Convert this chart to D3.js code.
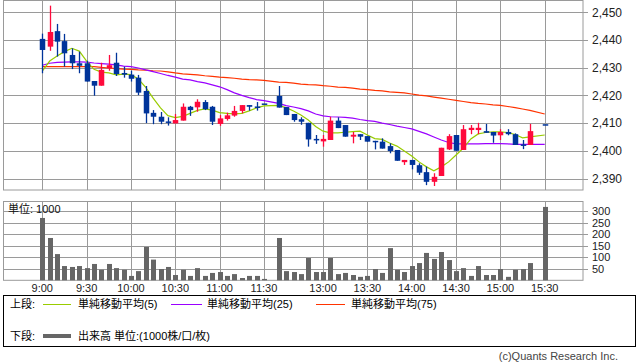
<!DOCTYPE html>
<html><head><meta charset="utf-8">
<script src="https://cdn.jsdelivr.net/npm/d3@7"></script>
<style>
body{margin:0;background:#fff;}
svg{display:block;font-family:"Liberation Sans","Noto Sans CJK JP",sans-serif;}
</style></head>
<body><svg id="c" width="638" height="362"></svg>
<script>
const times = ["9:00","9:05","9:10","9:15","9:20","9:25","9:30","9:35","9:40","9:45","9:50","9:55",
"10:00","10:05","10:10","10:15","10:20","10:25","10:30","10:35","10:40","10:45","10:50","10:55",
"11:00","11:05","11:10","11:15","11:20","11:25","11:30","12:00",
"12:30","12:35","12:40","12:45","12:50","12:55","13:00","13:05","13:10","13:15","13:20","13:25",
"13:30","13:35","13:40","13:45","13:50","13:55","14:00","14:05","14:10","14:15","14:20","14:25",
"14:30","14:35","14:40","14:45","14:50","14:55","15:00","15:05","15:10","15:15","15:20","15:25","15:30"];

const openP  = [2440.4,2437.6,2443.2,2439.6,2434.6,2431.6,2431.6,2425.2,2423.5,2429.8,2431.8,2428.1,2427.5,2426.4,2421.6,2413.7,2412.3,2410.6,2409.9,2410.9,2415.9,2415.7,2417.6,2415.9,2409.7,2411.5,2412.7,2414.4,2416.5,2416.0,2417.1,null,
2419.8,2415.8,2413.3,2411.4,2410.1,2404.3,2403.4,2403.9,2410.9,2409.3,2405.1,2406.0,2405.3,2403.6,2403.3,2401.7,2400.3,2395.9,2396.7,2394.8,2392.3,2388.8,2390.9,2400.5,2405.7,2400.3,2407.5,2407.5,2407.1,2406.8,2405.6,2406.8,2406.0,2402.3,2402.1,null,2409.6];
const highP  = [2442.3,2452.4,2445.8,2442.2,2437.0,2435.8,2432.5,2425.2,2431.8,2434.6,2435.4,2430.4,2428.9,2427.4,2423.4,2414.7,2414.0,2412.1,2413.3,2417.1,2416.2,2418.6,2418.3,2416.2,2412.9,2413.8,2416.2,2416.5,2416.5,2417.6,2417.1,null,
2423.4,2415.8,2413.3,2412.1,2410.1,2405.7,2405.7,2412.3,2412.1,2409.3,2406.8,2406.0,2405.3,2403.6,2404.5,2402.7,2400.3,2396.7,2396.7,2395.5,2394.3,2391.9,2401.1,2406.0,2405.7,2409.3,2409.3,2410.1,2409.7,2406.8,2407.8,2407.8,2406.3,2403.9,2409.7,null,2409.6];
const lowP   = [2428.0,2436.1,2434.0,2430.4,2429.5,2428.0,2425.0,2419.9,2423.5,2428.9,2427.0,2426.4,2425.0,2420.1,2410.0,2409.6,2409.6,2409.1,2409.9,2410.9,2412.6,2414.1,2414.7,2409.3,2409.0,2410.9,2412.3,2413.5,2414.5,2414.5,2417.1,null,
2415.6,2412.9,2410.5,2409.4,2401.5,2402.5,2401.5,2403.9,2408.2,2405.1,2402.7,2403.9,2403.3,2400.5,2400.8,2399.1,2396.4,2394.9,2393.3,2391.3,2387.6,2387.3,2390.9,2400.3,2400.0,2400.3,2406.0,2406.0,2406.5,2402.9,2403.9,2405.6,2402.1,2400.6,2402.1,null,2409.6];
const closeP = [2436.4,2442.9,2439.4,2435.2,2431.6,2430.7,2425.0,2423.5,2429.2,2430.9,2427.7,2427.5,2426.0,2421.0,2413.5,2412.3,2410.5,2410.5,2411.1,2415.9,2414.7,2417.7,2415.0,2410.5,2411.7,2412.8,2414.4,2416.5,2415.9,2415.7,2417.1,null,
2415.6,2412.9,2411.1,2410.5,2404.1,2404.1,2404.3,2410.9,2408.2,2405.1,2405.8,2405.1,2403.3,2403.5,2400.8,2399.9,2396.4,2396.7,2394.9,2392.1,2388.8,2390.6,2401.1,2405.3,2400.0,2407.8,2408.3,2408.3,2406.5,2405.5,2406.8,2406.0,2402.1,2402.1,2407.1,null,2409.6];

const volume = [271,184,114,62,58,62,53,71,46,71,53,46,19,40,145,90,49,58,23,46,19,53,19,32,36,19,27,10,19,19,6,null,
184,40,36,27,97,36,36,97,27,32,23,15,19,49,32,140,46,36,62,75,119,93,123,88,40,53,19,62,23,23,49,15,46,49,75,null,319];

const ma5 = [2428.8,2432.4,2434.2,2435.8,2437.0,2436.0,2432.4,2429.4,2428.4,2428.1,2427.4,2427.7,2427.5,2425.9,2422.9,2419.0,2415.5,2412.7,2412.0,2412.4,2413.5,2414.6,2415.1,2414.7,2413.8,2413.5,2413.3,2413.5,2414.4,2415.5,2416.2,null,
2416.4,2415.6,2414.4,2412.9,2411.1,2408.8,2407.1,2406.5,2406.5,2406.7,2406.9,2407.1,2405.7,2404.4,2404.1,2402.8,2401.7,2399.9,2398.1,2396.0,2394.2,2392.8,2394.2,2396.0,2398.5,2401.0,2404.3,2406.1,2406.6,2406.8,2406.8,2406.6,2405.9,2404.7,2405.0,null,2405.7];
const ma25 = [2430.9,2431.6,2431.9,2432.0,2432.1,2432.1,2432.0,2431.7,2431.5,2431.3,2431.0,2430.6,2430.4,2429.9,2429.2,2428.6,2427.9,2427.2,2426.6,2425.9,2425.6,2425.0,2424.5,2423.8,2423.1,2422.1,2420.9,2420.0,2419.2,2418.5,2418.1,null,
2417.1,2416.3,2415.8,2415.2,2414.4,2413.3,2412.6,2412.3,2412.2,2412.1,2411.8,2411.3,2410.9,2410.6,2410.0,2409.5,2408.9,2408.4,2407.9,2407.0,2406.1,2405.0,2403.9,2403.0,2402.5,2402.5,2402.5,2402.5,2402.6,2402.6,2402.6,2402.5,2402.3,2402.3,2402.3,null,2402.3];
const ma75 = [2430.4,2430.4,2430.4,2430.4,2430.4,2430.4,2430.4,2430.4,2430.1,2429.9,2429.7,2429.5,2429.4,2429.2,2429.1,2428.9,2428.8,2428.5,2428.1,2427.8,2427.6,2427.4,2427.1,2426.9,2426.6,2426.4,2426.2,2425.9,2425.7,2425.6,2425.4,null,
2424.8,2424.7,2424.4,2424.1,2423.9,2423.8,2423.5,2423.3,2423.0,2422.9,2422.6,2422.3,2422.1,2421.8,2421.6,2421.3,2421.1,2420.9,2420.5,2420.1,2419.8,2419.4,2419.0,2418.6,2418.2,2417.8,2417.4,2417.1,2416.9,2416.6,2416.4,2416.0,2415.6,2415.1,2414.6,null,2413.3];

const timeTicks = ["9:00","9:30","10:00","10:30","11:00","11:30","13:00","13:30","14:00","14:30","15:00","15:30"];
const priceTicks = [2390,2400,2410,2420,2430,2440,2450];
const volTicks = [50,100,150,200,250,300];

const svg = d3.select("#c");
const L = 3.5, R = 583;
const MT = 0.5, MB = 190;
const VT = 201.5, VB = 280.3;
const gridC = "#9a9a9a";
const upC = "#ff0a3c", downC = "#00349a";

const x = d3.scalePoint().domain(times).range([42.3, 544.7]);
const y = d3.scaleLinear().domain([2390, 2450]).range([178.5, 12.3]);
const yv = d3.scaleLinear().domain([0, 300]).range([VB, 211.3]);

const rows = times.map((t,i)=>({t, o:openP[i], h:highP[i], l:lowP[i], c:closeP[i], v:volume[i], m5:ma5[i], m25:ma25[i], m75:ma75[i]}));

// ---- main panel grid
const gm = svg.append("g");
gm.selectAll("line.h").data(priceTicks).join("line")
  .attr("x1", L).attr("x2", R+5).attr("y1", d=>Math.round(y(d))+0.5).attr("y2", d=>Math.round(y(d))+0.5)
  .attr("stroke", gridC);
gm.selectAll("line.v").data(timeTicks).join("line")
  .attr("x1", d=>Math.round(x(d))+0.5).attr("x2", d=>Math.round(x(d))+0.5).attr("y1", MT).attr("y2", MB)
  .attr("stroke", gridC);
gm.append("rect").attr("x", L).attr("y", MT).attr("width", R-L).attr("height", MB-MT)
  .attr("fill","none").attr("stroke", gridC);
gm.selectAll("text").data(priceTicks).join("text")
  .attr("x", 592).attr("y", d=>y(d)).attr("dy","0.36em")
  .attr("font-size", 12).attr("fill","#222").text(d=>d3.format(",")(d));

// ---- MA lines
const lineGen = key => d3.line().defined(d=>d[key]!=null).x(d=>x(d.t)).y(d=>y(d[key]));
const validRows = rows.filter(d=>d.m5!=null);
[["m75","#ff3300"],["m25","#9a00ff"],["m5","#99cc00"]].forEach(([k,c])=>{
  svg.append("path").datum(validRows).attr("d", lineGen(k))
    .attr("fill","none").attr("stroke",c).attr("stroke-width",1.2);
});

// ---- candles
const cd = rows.filter(d=>d.o!=null);
const cg = svg.append("g");
cg.selectAll("line").data(cd).join("line")
  .attr("x1", d=>Math.round(x(d.t))+0.5).attr("x2", d=>Math.round(x(d.t))+0.5)
  .attr("y1", d=>y(d.h)).attr("y2", d=>y(d.l))
  .attr("stroke", d=>d.c>d.o?upC:downC).attr("stroke-width",1.3);
const bw = 5.5;
cg.selectAll("rect").data(cd).join("rect")
  .attr("x", d=>Math.round(x(d.t))+0.5-bw/2).attr("width", bw)
  .attr("y", d=>y(Math.max(d.o,d.c)))
  .attr("height", d=>Math.max(1.5, Math.abs(y(d.o)-y(d.c))))
  .attr("fill", d=>d.c>d.o?upC:downC);

// ---- volume panel
const gv = svg.append("g");
gv.selectAll("line.h").data(volTicks).join("line")
  .attr("x1", L).attr("x2", R+5).attr("y1", d=>Math.round(yv(d))+0.5).attr("y2", d=>Math.round(yv(d))+0.5)
  .attr("stroke", gridC);
gv.selectAll("line.v").data(timeTicks).join("line")
  .attr("x1", d=>Math.round(x(d))+0.5).attr("x2", d=>Math.round(x(d))+0.5).attr("y1", VT).attr("y2", VB)
  .attr("stroke", gridC);
gv.append("rect").attr("x", L).attr("y", VT).attr("width", R-L).attr("height", VB-VT)
  .attr("fill","none").attr("stroke", gridC);
gv.selectAll("rect.b").data(rows.filter(d=>d.v!=null)).join("rect")
  .attr("x", d=>Math.round(x(d.t))+0.5-2.5).attr("width",5)
  .attr("y", d=>yv(d.v)).attr("height", d=>VB-yv(d.v)).attr("fill","#666");
gv.selectAll("text.t").data(volTicks).join("text")
  .attr("x", 592).attr("y", d=>yv(d)).attr("dy","0.36em")
  .attr("font-size", 11).attr("fill","#222").text(d=>d);
gv.append("text").attr("x",8).attr("y",213).attr("font-size",11).attr("fill","#111").text("単位: 1000");

// ---- x axis labels
svg.selectAll("text.x").data(timeTicks).join("text")
  .attr("x", d=>x(d)).attr("y", 292).attr("text-anchor","middle")
  .attr("font-size", 11).attr("fill","#222").text(d=>d);

// ---- legend
const lg = svg.append("g");
lg.append("rect").attr("x",3.5).attr("y",295.5).attr("width",632).attr("height",51)
  .attr("fill","none").attr("stroke","#000");
lg.append("text").attr("x",10).attr("y",308).attr("font-size",11).text("上段:");
lg.append("text").attr("x",10).attr("y",340).attr("font-size",11).text("下段:");
const legItems = [
  {c:"#99cc00", x1:43, x2:71, tx:78, label:"単純移動平均(5)"},
  {c:"#9a00ff", x1:171, x2:202, tx:207, label:"単純移動平均(25)"},
  {c:"#ff3300", x1:316, x2:345, tx:351, label:"単純移動平均(75)"}
];
legItems.forEach(it=>{
  lg.append("line").attr("x1",it.x1).attr("x2",it.x2).attr("y1",304.5).attr("y2",304.5).attr("stroke",it.c);
  lg.append("text").attr("x",it.tx).attr("y",308).attr("font-size",11).text(it.label);
});
lg.append("line").attr("x1",43).attr("x2",71).attr("y1",336).attr("y2",336).attr("stroke","#666").attr("stroke-width",4);
lg.append("text").attr("x",78).attr("y",340).attr("font-size",11).text("出来高 単位:(1000株/口/枚)");

svg.append("text").attr("x",618).attr("y",360).attr("text-anchor","end")
  .attr("font-size",11).attr("fill","#444").text("(c)Quants Research Inc.");
</script></body></html>
